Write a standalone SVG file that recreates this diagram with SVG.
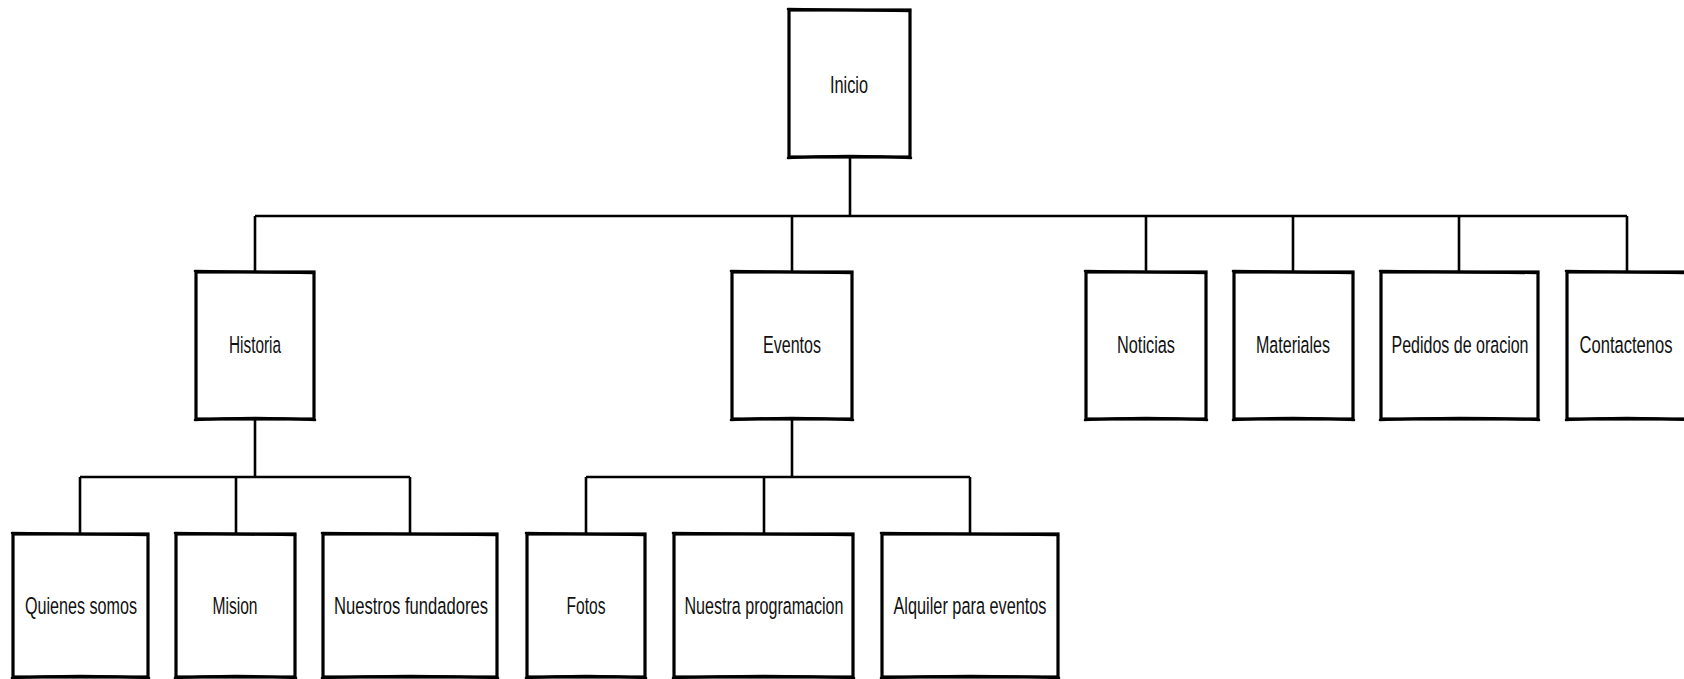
<svg xmlns="http://www.w3.org/2000/svg" width="1684" height="679" viewBox="0 0 1684 679">
<style>
.bx{fill:#fff;stroke:#000;stroke-width:3.2}
.ed{fill:none;stroke:#000;stroke-width:2.6;stroke-linecap:round}
.cn{fill:none;stroke:#000;stroke-width:2.6}
.t{font-family:"Liberation Sans","DejaVu Sans",Arial,sans-serif;font-size:18px;fill:#111;text-anchor:middle}
</style>
<rect width="1684" height="679" fill="#fff"/>
<g id="connectors">
<path class="cn" d="M850 157V216M255 216H1627M255 216V272M792 216V272M1146 216V272M1293 216V272M1459 216V272M1627 216V272"/>
<path class="cn" d="M255 419V477M80 477H410M80 477V534M236 477V534M410 477V534"/>
<path class="cn" d="M792 419V477M586 477H970M586 477V534M764 477V534M970 477V534"/>
</g>
<g id="inicio"><rect class="bx" x="789" y="10" width="121" height="147"/><path class="ed" d="M788 9L910 11M788 158Q850 154 911 158"/><text class="t" transform="translate(849 93) scale(1 1.35)" textLength="38" lengthAdjust="spacingAndGlyphs">Inicio</text></g>
<g id="historia"><rect class="bx" x="196" y="272" width="118" height="147"/><path class="ed" d="M195 271L314 273M195 420Q255 416 315 420"/><text class="t" transform="translate(255 353) scale(1 1.35)" textLength="52" lengthAdjust="spacingAndGlyphs">Historia</text></g>
<g id="eventos"><rect class="bx" x="732" y="272" width="120" height="147"/><path class="ed" d="M731 271L852 273M731 420Q792 416 853 420"/><text class="t" transform="translate(792 353) scale(1 1.35)" textLength="58" lengthAdjust="spacingAndGlyphs">Eventos</text></g>
<g id="noticias"><rect class="bx" x="1086" y="272" width="120" height="147"/><path class="ed" d="M1085 271L1206 273M1085 420Q1146 416 1207 420"/><text class="t" transform="translate(1146 353) scale(1 1.35)" textLength="58" lengthAdjust="spacingAndGlyphs">Noticias</text></g>
<g id="materiales"><rect class="bx" x="1234" y="272" width="119" height="147"/><path class="ed" d="M1233 271L1353 273M1233 420Q1293 416 1354 420"/><text class="t" transform="translate(1293 353) scale(1 1.35)" textLength="74" lengthAdjust="spacingAndGlyphs">Materiales</text></g>
<g id="pedidos"><rect class="bx" x="1381" y="272" width="157" height="147"/><path class="ed" d="M1380 271L1538 273M1380 420Q1459 416 1539 420"/><text class="t" transform="translate(1460 353) scale(1 1.35)" textLength="137" lengthAdjust="spacingAndGlyphs">Pedidos de oracion</text></g>
<g id="contactenos"><rect class="bx" x="1567" y="272" width="121" height="147"/><path class="ed" d="M1566 271L1688 273M1566 420Q1627 416 1688 420"/><text class="t" transform="translate(1626 353) scale(1 1.35)" textLength="93" lengthAdjust="spacingAndGlyphs">Contactenos</text></g>
<g id="quienes"><rect class="bx" x="13" y="534" width="135" height="143"/><path class="ed" d="M12 533L148 535M12 678Q80 674 149 678"/><text class="t" transform="translate(81 614) scale(1 1.35)" textLength="112" lengthAdjust="spacingAndGlyphs">Quienes somos</text></g>
<g id="mision"><rect class="bx" x="176" y="534" width="119" height="143"/><path class="ed" d="M175 533L295 535M175 678Q236 674 296 678"/><text class="t" transform="translate(235 614) scale(1 1.35)" textLength="45" lengthAdjust="spacingAndGlyphs">Mision</text></g>
<g id="fundadores"><rect class="bx" x="323" y="534" width="174" height="143"/><path class="ed" d="M322 533L497 535M322 678Q410 674 498 678"/><text class="t" transform="translate(411 614) scale(1 1.35)" textLength="154" lengthAdjust="spacingAndGlyphs">Nuestros fundadores</text></g>
<g id="fotos"><rect class="bx" x="527" y="534" width="118" height="143"/><path class="ed" d="M526 533L645 535M526 678Q586 674 646 678"/><text class="t" transform="translate(586 614) scale(1 1.35)" textLength="39" lengthAdjust="spacingAndGlyphs">Fotos</text></g>
<g id="programacion"><rect class="bx" x="674" y="534" width="179" height="143"/><path class="ed" d="M673 533L853 535M673 678Q764 674 854 678"/><text class="t" transform="translate(764 614) scale(1 1.35)" textLength="159" lengthAdjust="spacingAndGlyphs">Nuestra programacion</text></g>
<g id="alquiler"><rect class="bx" x="882" y="534" width="176" height="143"/><path class="ed" d="M881 533L1058 535M881 678Q970 674 1059 678"/><text class="t" transform="translate(970 614) scale(1 1.35)" textLength="153" lengthAdjust="spacingAndGlyphs">Alquiler para eventos</text></g>
</svg>
